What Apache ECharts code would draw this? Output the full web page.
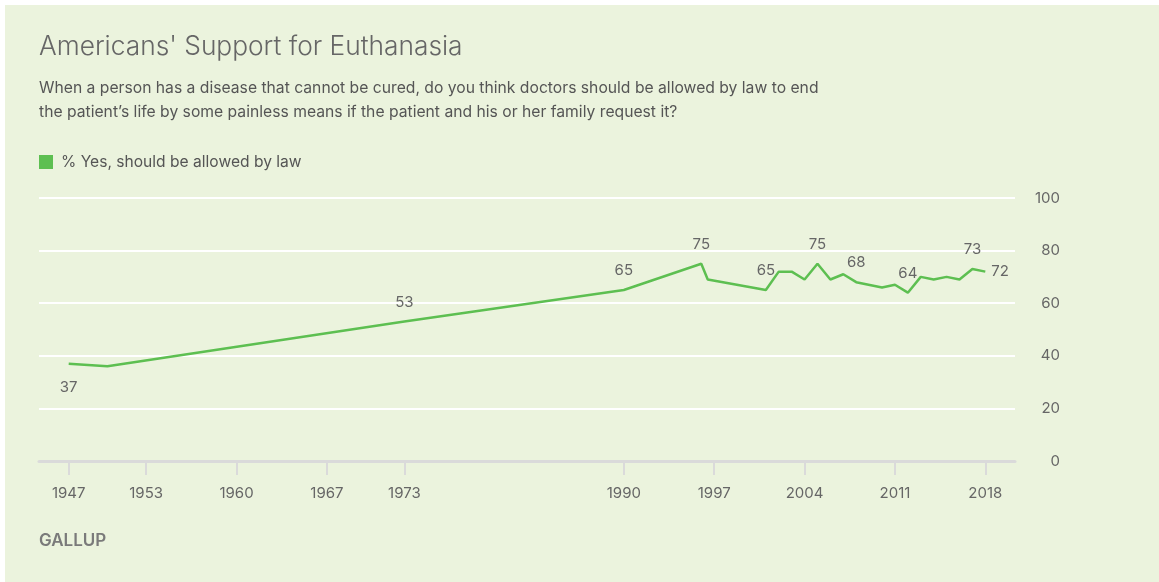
<!DOCTYPE html>
<html>
<head>
<meta charset="utf-8">
<script src="https://cdn.jsdelivr.net/npm/echarts@6/dist/echarts.min.js"></script>
<style>
  html, body { margin: 0; padding: 0; background: #ffffff; }
  #chart { position: absolute; left: 5px; top: 5px; width: 1154px; height: 577px; }
</style>
</head>
<body>
<div id="chart"></div>
<script>
// ---- data ----
const years  = [1947, 1950, 1973, 1990, 1996, 1996.5, 2001, 2002, 2003, 2004, 2005, 2006, 2007, 2008, 2010, 2011, 2012, 2013, 2014, 2015, 2016, 2017, 2018];
const values = [37,   36,   53,   65,   75,   69,     65,   72,   72,   69,   75,   69,   71,   68,   66,   67,   64,   70,   69,   70,   69,   73,   72];
const xTickYears = [1947, 1953, 1960, 1967, 1973, 1990, 1997, 2004, 2011, 2018];
const yTicks = [0, 20, 40, 60, 80, 100];
const seriesName = '% Yes, should be allowed by law';
const titleText = "Americans' Support for Euthanasia";
const subtitleLines = [
  "When a person has a disease that cannot be cured, do you think doctors should be allowed by law to end",
  "the patient\u2019s life by some painless means if the patient and his or her family request it?"
];
const sourceText = 'GALLUP';

// which points carry a value label, and where (style only)
const labelPlacement = {1947: 'bottom', 1973: 'top', 1990: 'top', 1996: 'top', 2001: 'top', 2005: 'top', 2008: 'top', 2012: 'top', 2017: 'top', 2018: 'right'};

const FONT = 'Inter';
const GREEN = '#5dbf51';
const TEXT = '#666666';

const seriesData = years.map((y, i) => {
  const pos = labelPlacement[y];
  const item = { value: [y, values[i]] };
  if (pos) {
    item.label = {
      show: true,
      position: pos,
      distance: pos === 'bottom' ? 16 : (pos === 'right' ? 6 : 12),
      color: TEXT,
      fontSize: 15,
      fontFamily: FONT
    };
  }
  return item;
});

const chart = echarts.init(document.getElementById('chart'), null, { renderer: 'canvas' });
chart.setOption({
  animation: false,
  backgroundColor: '#ebf3dd',
  textStyle: { fontFamily: FONT },
  legend: {
    left: 29,
    top: 144,
    icon: 'rect',
    itemWidth: 14,
    itemHeight: 14,
    selectedMode: false,
    textStyle: { fontSize: 15.6, color: '#555555', fontFamily: FONT, padding: [0, 0, 0, 3] },
    data: [seriesName]
  },
  graphic: [
    {
      type: 'text', x: 34, y: 42,
      style: { text: titleText, fontSize: 26.3, fontWeight: 300, fill: '#666666', fontFamily: FONT, verticalAlign: 'middle' }
    },
    {
      type: 'text', x: 34, y: 83,
      style: { text: subtitleLines[0], fontSize: 15.7, fill: '#555555', fontFamily: FONT, verticalAlign: 'middle' }
    },
    {
      type: 'text', x: 34, y: 107,
      style: { text: subtitleLines[1], fontSize: 15.7, fill: '#555555', fontFamily: FONT, verticalAlign: 'middle' }
    },
    {
      type: 'text', x: 34, y: 536,
      style: { text: sourceText, fontSize: 17, fontWeight: 600, fill: '#7a7a7a', fontFamily: FONT, verticalAlign: 'middle' }
    }
  ],
  grid: { left: 34, right: 144, top: 193, bottom: 121 },
  xAxis: {
    type: 'value',
    min: 1944.7,
    max: 2020.3,
    axisLine: { show: true, lineStyle: { color: '#dadada', width: 3 } },
    axisTick: { show: true, customValues: xTickYears, length: 14, lineStyle: { color: '#dadada', width: 2 } },
    axisLabel: { customValues: xTickYears, color: TEXT, fontSize: 15, margin: 25, formatter: v => String(v) },
    splitLine: { show: false }
  },
  yAxis: {
    type: 'value',
    position: 'right',
    min: yTicks[0],
    max: yTicks[yTicks.length - 1],
    interval: 20,
    axisLine: { show: false },
    axisTick: { show: false },
    axisLabel: { color: TEXT, fontSize: 15, align: 'right', margin: 45 },
    splitLine: { show: true, lineStyle: { color: '#ffffff', width: 2 } }
  },
  series: [{
    name: seriesName,
    type: 'line',
    data: seriesData,
    symbol: 'circle',
    symbolSize: 0,
    showSymbol: true,
    itemStyle: { color: GREEN },
    lineStyle: { color: GREEN, width: 2.5 },
    emphasis: { disabled: true },
    z: 3
  }]
});
</script>
</body>
</html>
